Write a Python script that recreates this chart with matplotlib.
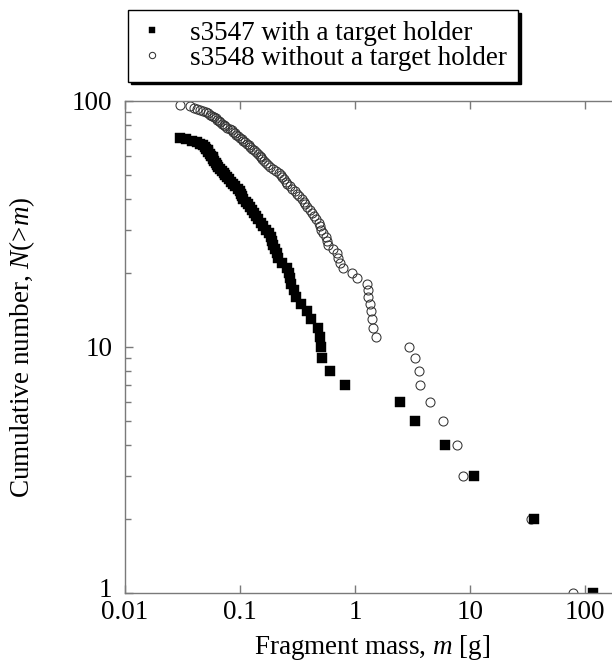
import numpy as np
import matplotlib
matplotlib.use("Agg")
import matplotlib.pyplot as plt
from matplotlib.ticker import LogLocator, NullLocator, NullFormatter
from matplotlib.transforms import ScaledTranslation

plt.rcParams['font.family'] = ['Liberation Serif', 'DejaVu Serif']
plt.rcParams['mathtext.fontset'] = 'custom'
plt.rcParams['mathtext.rm'] = 'Liberation Serif'
plt.rcParams['mathtext.it'] = 'Liberation Serif:italic'

# fragment masses [g], smallest first (largest cumulative number first)
m_s3547 = [0.0301, 0.0339, 0.0382, 0.0423, 0.0449, 0.0477, 0.0496, 0.0511, 0.0522, 0.0532,
           0.0548, 0.0560, 0.0577, 0.0588, 0.0600, 0.0618, 0.0631, 0.0650, 0.0670, 0.0691,
           0.0719, 0.0741, 0.0778, 0.0802, 0.0835, 0.0869, 0.0914, 0.0960, 0.0996, 0.102,
           0.104, 0.107, 0.113, 0.117, 0.122, 0.128, 0.132, 0.138, 0.143, 0.152,
           0.160, 0.170, 0.179, 0.188, 0.190, 0.192, 0.201, 0.208, 0.216, 0.230,
           0.259, 0.267, 0.272, 0.280, 0.295, 0.310, 0.339, 0.380, 0.414, 0.480,
           0.501, 0.511, 0.513, 0.612, 0.818, 2.46, 3.33, 6.06, 10.8, 36.0, 116.6]

m_s3548 = [0.0301, 0.0367, 0.0398, 0.0423, 0.0449, 0.0477, 0.0506, 0.0532, 0.0554, 0.0571,
           0.0594, 0.0618, 0.0637, 0.0657, 0.0677, 0.0697, 0.0719, 0.0748, 0.0778, 0.0811,
           0.0844, 0.0878, 0.0905, 0.0932, 0.0970, 0.101, 0.104, 0.107, 0.111, 0.114,
           0.119, 0.122, 0.127, 0.132, 0.138, 0.143, 0.148, 0.152, 0.157, 0.162,
           0.168, 0.175, 0.182, 0.194, 0.206, 0.218, 0.227, 0.234, 0.241, 0.249,
           0.259, 0.272, 0.286, 0.301, 0.313, 0.326, 0.343, 0.357, 0.371, 0.386,
           0.406, 0.423, 0.444, 0.463, 0.486, 0.501, 0.511, 0.532, 0.565, 0.577,
           0.588, 0.644, 0.693, 0.716, 0.741, 0.791, 0.936, 1.047, 1.264, 1.29,
           1.29, 1.35, 1.37, 1.42, 1.44, 1.52, 2.97, 3.32, 3.62, 3.67,
           4.49, 5.86, 7.76, 8.74, 33.7, 79.1]

labels = ['s3547 with a target holder', 's3548 without a target holder']
xticks = [0.01, 0.1, 1, 10, 100]
xticklabels = ['0.01', '0.1', '1', '10', '100']
yticks = [1, 10, 100]
yticklabels = ['1', '10', '100']

# cumulative number N(>m) = rank of each fragment counted from the heaviest
n_s3547 = np.arange(len(m_s3547), 0, -1)
n_s3548 = np.arange(len(m_s3548), 0, -1)

W, H = 612, 666
fs = 19.5
fig = plt.figure(figsize=(W / 100, H / 100), dpi=100)
# the frame runs a little past the right edge of the picture, as in the original
ax = fig.add_axes([125 / W, 73 / H, 494.5 / W, 492 / H])

h2, = ax.plot(m_s3548, n_s3548, 'o', ms=6.5, mfc='none', mec='#333333', mew=0.75)
h1, = ax.plot(m_s3547, n_s3547, 's', ms=6.5, mfc='black', mec='black', mew=0.3)

ax.set_xscale('log')
ax.set_yscale('log')
ax.set_xlim(0.01, 200)
ax.set_ylim(1, 100)

ax.set_xticks(xticks)
ax.set_xticklabels(xticklabels)
ax.xaxis.set_minor_locator(NullLocator())
ax.set_yticks(yticks)
ax.set_yticklabels(yticklabels)
ax.yaxis.set_minor_locator(LogLocator(base=10, subs=np.arange(2, 10)))
ax.yaxis.set_minor_formatter(NullFormatter())

gray = '#7a7a7a'
for s in ax.spines.values():
    s.set_color(gray)
    s.set_linewidth(1.0)
ax.tick_params(which='both', direction='in', top=True, right=True, color=gray, width=1.0)
ax.tick_params(which='major', length=5.8, labelsize=fs)
ax.tick_params(axis='x', which='major', pad=5)
ax.tick_params(axis='y', which='major', pad=9)
ax.tick_params(which='minor', length=4.3)

# lift the "1" on the y axis a little so it sits above "0.01"
lab1 = ax.get_yticklabels()[0]
lab1.set_transform(lab1.get_transform() + ScaledTranslation(0, 4 / 72, fig.dpi_scale_trans))

ax.set_xlabel('Fragment mass, $m$ [g]', fontsize=fs)
ax.set_ylabel('Cumulative number, $N$(>$m$)', fontsize=fs)
ax.xaxis.set_label_coords(0.5, -0.081)
ax.yaxis.set_label_coords(-0.178, 0.5)

leg = fig.legend([h1, h2], labels, loc='upper left',
                 bbox_to_anchor=(128 / W, 1 - 10 / H), borderaxespad=0,
                 fontsize=fs, markerscale=0.7, handlelength=1.0, handletextpad=0.9,
                 labelspacing=0.0, borderpad=0.4, fancybox=False,
                 edgecolor='black', framealpha=1,
                 shadow={'color': 'black', 'alpha': 1.0})
leg.get_frame().set_linewidth(1.0)

fig.savefig('out.png', dpi=100)
